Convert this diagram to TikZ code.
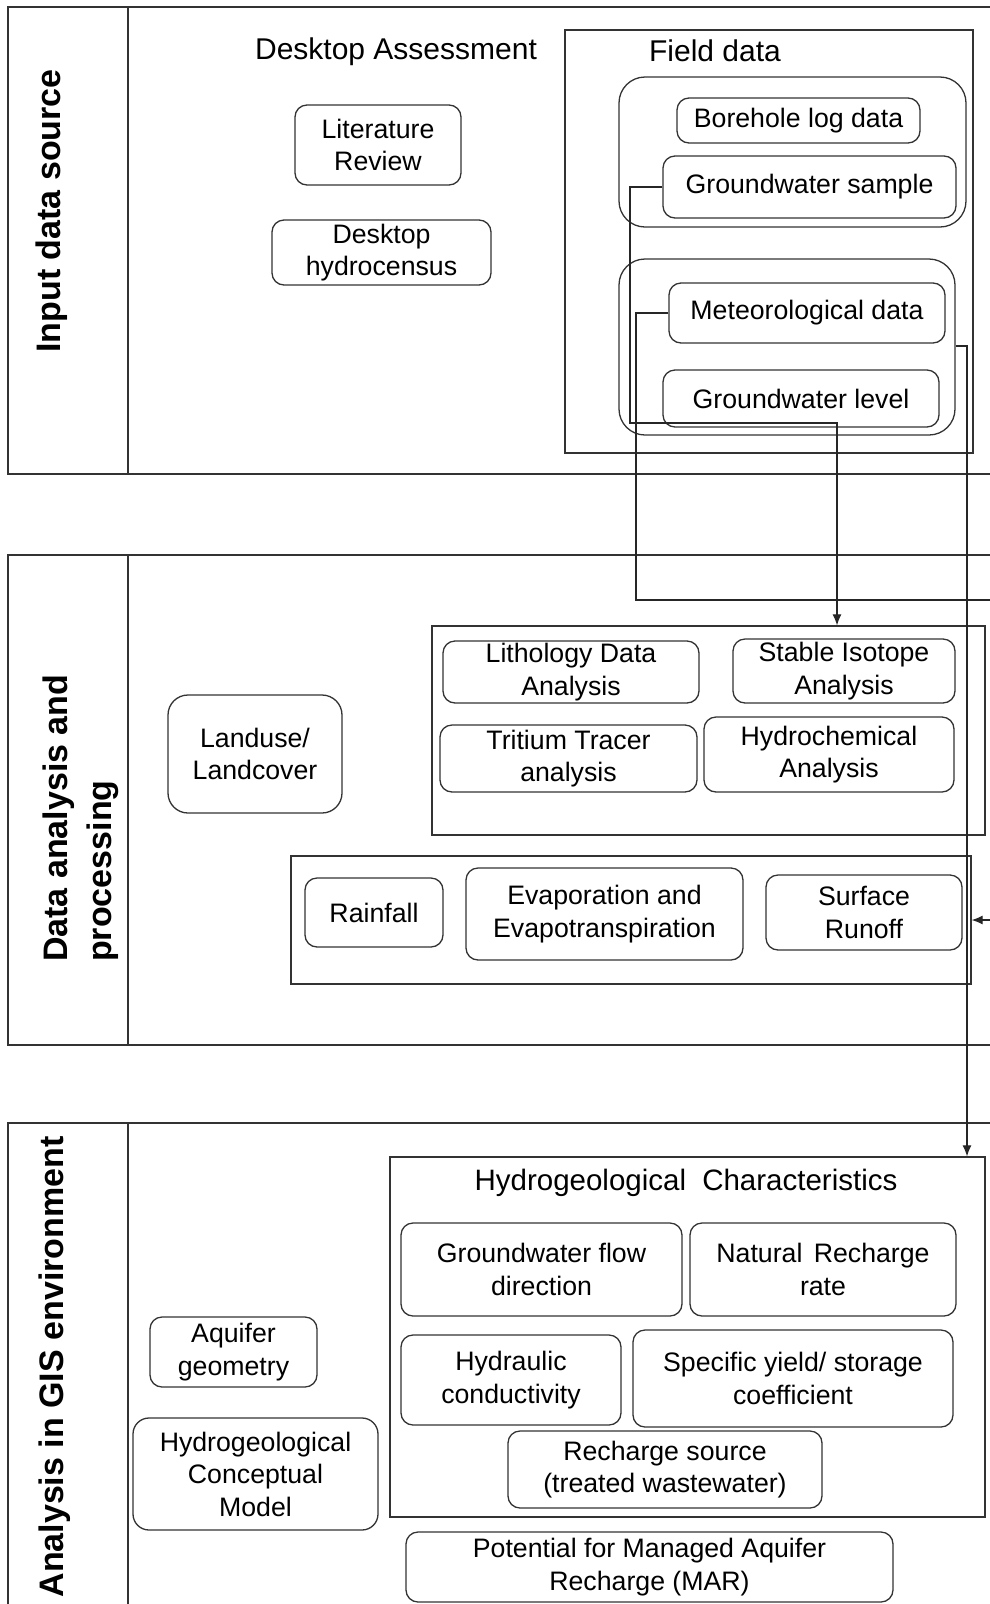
\documentclass[tikz,border=0pt]{standalone}
\usepackage{fontspec}
\setmainfont{Liberation Sans}
\usetikzlibrary{arrows.meta}
\begin{document}
\begin{tikzpicture}[x=1pt,y=-1pt,
  line/.style={draw=black!80, line width=1.3pt},
  box/.style={line, rounded corners=12pt, align=center, inner sep=0pt, font=\fontsize{26.7}{32.5}\selectfont, text=black},
  grp/.style={line, rounded corners=26pt, inner sep=0pt},
  frame/.style={line, inner sep=0pt},
  ttl/.style={font=\fontsize{30}{36}\selectfont, inner sep=0pt, text=black},
  httl/.style={font=\fontsize{29.5}{35}\selectfont, inner sep=0pt, text=black},
  sec/.style={font=\fontsize{34}{44}\bfseries\selectfont, rotate=90, inner sep=0pt, align=left, text=black},
  conn/.style={draw=black!85, line width=1.1pt},
  arr/.style={conn, -{Latex[length=11pt,width=9pt]}},
]
\useasboundingbox (0,0) rectangle (990,1604);

% ---------- section frames ----------
\draw[line] (990,7) -- (8,7) -- (8,474) -- (990,474);
\draw[line] (128,7) -- (128,474);
\draw[line] (990,555) -- (8,555) -- (8,1045) -- (990,1045);
\draw[line] (128,555) -- (128,1045);
\draw[line] (990,1123) -- (8,1123) -- (8,1610);
\draw[line] (128,1123) -- (128,1610);

\node[sec] (s1) at (52,211) {Input data source};
\node[sec, anchor=west] (s2) at (81,962) {Data analysis and\\processing};
\node[sec] (s3) at (55,1367) {Analysis in GIS environment};

% ---------- section 1 ----------
\node[ttl] (dtitle) at (396,52) {Desktop Assessment};
\node[box, minimum width=166pt, minimum height=80pt] (lit) at (378,145) {Literature\\Review};
\node[box, minimum width=219pt, minimum height=65pt] (dhc) at (381.5,252.5) {Desktop\\hydrocensus};

\node[frame, minimum width=408pt, minimum height=423pt] (field) at (769,241.5) {};
\node[ttl] (ftitle) at (715,51) {Field data};
\node[grp, minimum width=347pt, minimum height=150pt] (g1) at (792.5,152) {};
\node[box, minimum width=243pt, minimum height=45pt] (bore) at (798.5,120.5) {Borehole log data};
\node[box, minimum width=293pt, minimum height=62pt] (gws) at (809.5,187) {Groundwater sample};
\node[grp, minimum width=336pt, minimum height=176pt] (g2) at (787,347) {};
\node[box, minimum width=276pt, minimum height=60pt] (meteo) at (807,313) {Meteorological data};
\node[box, minimum width=276pt, minimum height=57pt] (gwl) at (801,398.5) {Groundwater level};

% ---------- section 2 ----------
\node[box, rounded corners=20pt, minimum width=174pt, minimum height=118pt] (land) at (255,754) {Landuse/\\Landcover};
\node[frame, minimum width=553pt, minimum height=209pt] (lgroup) at (708.5,730.5) {};
\node[box, minimum width=256pt, minimum height=62pt] (lith) at (571,672) {Lithology Data\\Analysis};
\node[box, minimum width=222pt, minimum height=64pt] (iso) at (844,671) {Stable Isotope\\Analysis};
\node[box, minimum width=257pt, minimum height=67pt] (trit) at (568.5,758.5) {Tritium Tracer\\analysis};
\node[box, minimum width=250pt, minimum height=75pt] (hchem) at (829,754.5) {Hydrochemical\\Analysis};

\node[frame, minimum width=680pt, minimum height=128pt] (rgroup) at (631,920) {};
\node[box, minimum width=138pt, minimum height=69pt] (rain) at (374,912.5) {Rainfall};
\node[box, minimum width=277pt, minimum height=92pt] (evap) at (604.5,914) {Evaporation and\\Evapotranspiration};
\node[box, minimum width=196pt, minimum height=75pt] (runoff) at (864,912.5) {Surface\\Runoff};

% ---------- section 3 ----------
\node[box, minimum width=167pt, minimum height=70pt] (aq) at (233.5,1352) {Aquifer\\geometry};
\node[box, rounded corners=16pt, minimum width=245pt, minimum height=112pt] (hcm) at (255.5,1474) {Hydrogeological\\Conceptual\\Model};

\node[frame, minimum width=595pt, minimum height=360pt] (hbox) at (687.5,1337) {};
\node[httl] (htitle) at (686,1183) {Hydrogeological\hspace{8pt} Characteristics};
\node[box, minimum width=281pt, minimum height=93pt] (flow) at (541.5,1269.5) {Groundwater flow\\direction};
\node[box, minimum width=266pt, minimum height=93pt] (nrr) at (823,1269.5) {Natural\hspace{4pt} Recharge\\rate};
\node[box, minimum width=220pt, minimum height=90pt] (hk) at (511,1380) {Hydraulic\\conductivity};
\node[box, minimum width=320pt, minimum height=97pt] (sy) at (793,1378.5) {Specific yield/ storage\\coefficient};
\node[box, minimum width=314pt, minimum height=77pt] (rs) at (665,1469.5) {Recharge source\\(treated wastewater)};
\node[box, minimum width=487pt, minimum height=70pt] (mar) at (649.5,1567) {Potential for Managed Aquifer\\Recharge (MAR)};

% ---------- connectors ----------
\coordinate (k1) at (630,423);
\coordinate (xD) at (837,0);
\coordinate (k2) at (636,600);
\coordinate (e1) at (990,600);
\coordinate (e2) at (990,920);
\coordinate (k3) at (0,346);
\coordinate (xC) at (967,0);

\draw[arr] (gws.west) -| (k1) -| (lgroup.north -| xD);
\draw[conn] (meteo.west) -| (k2) -- (e1);
\draw[arr] (e2) -- (rgroup.east);
\draw[arr] (g2.east |- k3) -| (hbox.north -| xC);
\end{tikzpicture}
\end{document}
